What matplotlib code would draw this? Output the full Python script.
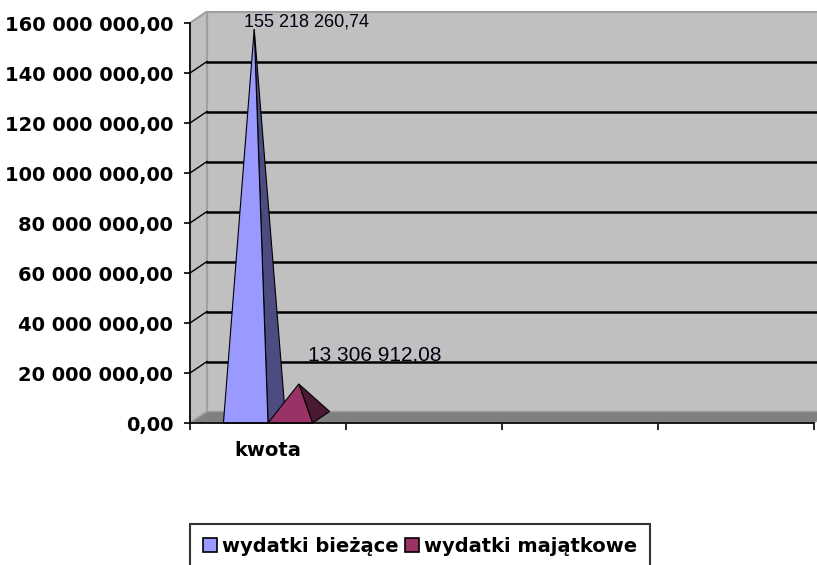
#!/usr/bin/env python3

import numpy as np
import matplotlib

matplotlib.use("Agg")
import matplotlib.pyplot as plt
from matplotlib.patches import Polygon, Patch

# chart data
categories = ["kwota", "", "", ""]
series_names = ["wydatki bieżące", "wydatki majątkowe"]
biezace = [155218260.74, 0, 0, 0]
majatkowe = [13306912.08, 0, 0, 0]
y_ticks = [0, 20e6, 40e6, 60e6, 80e6, 100e6, 120e6, 140e6, 160e6]

front_colors = ["#9999FF", "#993366"]
side_colors = ["#4C4C80", "#4C1933"]

# fake 3d depth, in data units
DX = 17 / 156.0
DY = 11.5 / 2.5 * 1e6
GAP = 1.5  # excel gap width 150%


def fmt(v):
    return f"{v:,.2f}".replace(",", " ").replace(".", ",")


def draw_pyramid(ax, x0, w, h, front, side):
    apex = (x0 + w / 2 + DX / 2, h + DY / 2)
    side_face = [(x0 + w, 0), (x0 + w + DX, DY), apex]
    front_face = [(x0, 0), (x0 + w, 0), apex]
    ax.add_patch(Polygon(side_face, closed=True, facecolor=side,
                         edgecolor="black", lw=0.8, zorder=5, clip_on=False))
    ax.add_patch(Polygon(front_face, closed=True, facecolor=front,
                         edgecolor="black", lw=0.8, zorder=5, clip_on=False))
    return apex


def main():
    fig = plt.figure(figsize=(8.17, 5.65), dpi=100)
    ax = fig.add_axes([190 / 817, 142 / 565, 624 / 817, 400 / 565])
    n = len(categories)
    ymax = y_ticks[-1]
    ax.set_xlim(0, n)
    ax.set_ylim(0, ymax)
    ax.patch.set_visible(False)

    # walls and floor
    back = [(DX, DY), (n + DX, DY), (n + DX, ymax + DY), (DX, ymax + DY)]
    left = [(0, 0), (DX, DY), (DX, ymax + DY), (0, ymax)]
    floor = [(0, 0), (n, 0), (n + DX, DY), (DX, DY)]
    ax.add_patch(Polygon(back, facecolor="#C0C0C0", edgecolor="#A0A0A0",
                         lw=1.5, zorder=1, clip_on=False))
    ax.add_patch(Polygon(left, facecolor="#C0C0C0", edgecolor="#A0A0A0",
                         lw=1.5, zorder=1, clip_on=False))
    ax.add_patch(Polygon(floor, facecolor="#808080", edgecolor="#A0A0A0",
                         lw=1, zorder=2, clip_on=False))

    # gridlines on the walls
    for v in y_ticks[1:-1]:
        ax.plot([DX, n + DX], [v + DY, v + DY], color="black", lw=1.8,
                zorder=3, clip_on=False)
        ax.plot([0, DX], [v, v + DY], color="black", lw=1.0,
                zorder=3, clip_on=False)

    # pyramids
    w = 1.0 / (len(series_names) + GAP)
    apexes = []
    for i in range(n):
        for s, vals in enumerate([biezace, majatkowe]):
            if vals[i] <= 0:
                continue
            x0 = i + GAP * w / 2 + s * w
            apex = draw_pyramid(ax, x0, w, vals[i], front_colors[s], side_colors[s])
            apexes.append((apex, vals[i]))

    # data labels
    offsets = [((38, 5), 13), ((54.5, 21), 15)]
    for (apex, v), (off, size) in zip(apexes, offsets):
        ax.annotate(fmt(v), xy=apex, xytext=off, textcoords="offset points",
                    ha="center", va="center", fontsize=size,
                    family="Liberation Sans", color="#000010", zorder=6,
                    annotation_clip=False)

    # axes
    for side in ["top", "right"]:
        ax.spines[side].set_visible(False)
    for side in ["left", "bottom"]:
        ax.spines[side].set_color("black")
        ax.spines[side].set_linewidth(1.2)
        ax.spines[side].set_zorder(7)
    ax.set_yticks(y_ticks)
    ax.set_yticklabels([fmt(v) for v in y_ticks], fontsize=14,
                       fontweight="bold", family="DejaVu Sans")
    ax.tick_params(axis="y", length=4, width=1.2, pad=8, colors="black")
    ax.set_xticks(np.arange(n + 1))
    ax.set_xticklabels([])
    ax.set_xticks(np.arange(n) + 0.5, minor=True)
    ax.set_xticklabels(categories, minor=True, fontsize=14, fontweight="bold")
    ax.tick_params(axis="x", which="major", length=5, width=1.2)
    ax.tick_params(axis="x", which="minor", length=0, pad=13)

    handles = [Patch(facecolor=c, edgecolor="black", lw=1.2) for c in front_colors]
    leg = fig.legend(handles, series_names, loc="upper left",
                     bbox_to_anchor=(190 / 817, 1 - 524 / 565), ncol=2,
                     frameon=True, fancybox=False, borderaxespad=0,
                     handlelength=0.75, handleheight=0.75, handletextpad=0.25,
                     columnspacing=0.3, borderpad=0.65,
                     prop={"size": 14, "weight": "bold", "family": "DejaVu Sans"})
    leg.get_frame().set_edgecolor("black")
    leg.get_frame().set_linewidth(1.5)

    fig.savefig("out.png", dpi=100)


if __name__ == "__main__":
    main()
